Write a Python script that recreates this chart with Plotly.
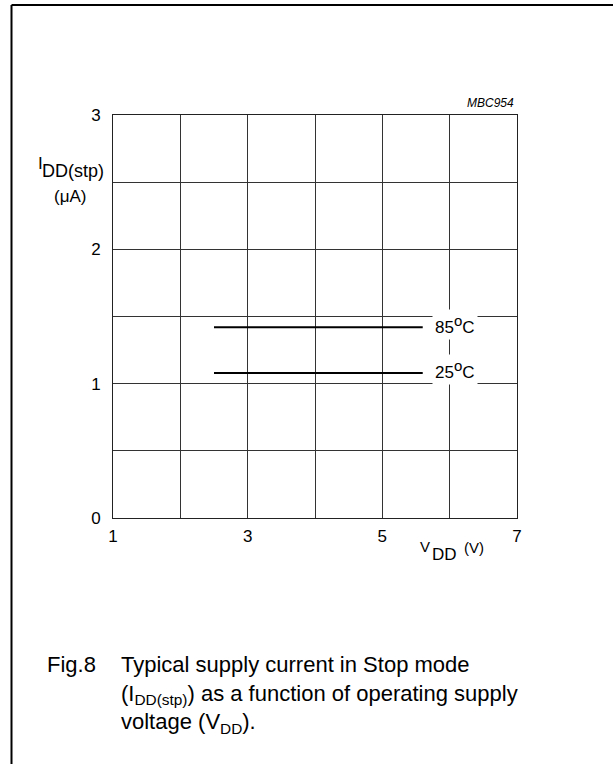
import plotly.graph_objects as go

# ---- data ----
vdd = [2.5, 5.6]            # V
idd_85 = [1.42, 1.42]       # uA at 85 C
idd_25 = [1.08, 1.08]       # uA at 25 C
series_labels = ["85", "25"]
x_ticks = [1, 2, 3, 4, 5, 6, 7]
x_ticktext = ["1", "", "3", "", "5", "", "7"]
y_ticks = [0, 0.5, 1, 1.5, 2, 2.5, 3]
y_ticktext = ["0", "", "1", "", "2", "", "3"]

W, H = 613, 764
ML, MR, MT, MB = 113, 96, 115, 246
PW, PH = W - ML - MR, H - MT - MB

def px(x):
    return (x - ML) / PW

def py(y):
    return (H - MB - y) / PH

FONT = "Liberation Sans, Arial, sans-serif"

fig = go.Figure()
for yv in (idd_85, idd_25):
    fig.add_trace(go.Scatter(x=vdd, y=yv, mode="lines",
                             line=dict(color="black", width=2),
                             showlegend=False, hoverinfo="skip"))

ann = []
for yv, lab in zip((idd_85, idd_25), series_labels):
    text = lab + "<sup><span style='font-size:15px'>o</span></sup>C"
    ann.append(dict(x=vdd[-1], y=yv[-1], xref="x", yref="y", text=text,
                    showarrow=False, xanchor="left", yanchor="middle",
                    xshift=9, yshift=3, bgcolor="white", borderpad=2,
                    font=dict(family=FONT, size=17, color="black")))

def t(text, x, y, size, xanchor="left", yanchor="middle", italic=False):
    return dict(x=px(x), y=py(y), xref="paper", yref="paper", text=text,
                showarrow=False, xanchor=xanchor, yanchor=yanchor,
                font=dict(family=FONT, size=size, color="black",
                          style="italic" if italic else "normal"))

ann += [
    t("I", 36, 163, 17),
    t("DD(stp)", 40, 171, 18),
    t("(\u03bcA)", 52, 196, 17),
    t("V", 418, 546, 15),
    t("DD", 430, 554, 17),
    t("(V)", 462, 547, 15),
    t("MBC954", 516, 103, 12, xanchor="right", italic=True),
    t("Fig.8", 45, 664, 22),
    t("Typical supply current in Stop mode<br>(I<sub>DD(stp)</sub>) as a function of operating supply<br>voltage (V<sub>DD</sub>).",
      119, 650, 22, yanchor="top"),
]
for a in ann:
    if a.get("yanchor") == "top":
        a["align"] = "left"

shapes = [
    dict(type="line", xref="paper", yref="paper", x0=px(11.5), x1=px(613), y0=py(5), y1=py(5),
         line=dict(color="black", width=2)),
    dict(type="line", xref="paper", yref="paper", x0=px(11.5), x1=px(11.5), y0=py(5), y1=py(764),
         line=dict(color="black", width=2)),
]

axis_common = dict(showline=True, mirror=True, linecolor="#222", linewidth=1,
                   showgrid=True, gridcolor="#333", gridwidth=1, zeroline=False,
                   ticks="", tickfont=dict(family=FONT, size=17, color="black"))

fig.update_layout(
    width=W, height=H, margin=dict(l=ML, r=MR, t=MT, b=MB, autoexpand=False),
    paper_bgcolor="white", plot_bgcolor="white",
    xaxis=dict(range=[1, 7], tickvals=x_ticks, ticktext=x_ticktext,
               ticklabelstandoff=3, **axis_common),
    yaxis=dict(range=[0, 3], tickvals=y_ticks, ticktext=y_ticktext,
               ticklabelstandoff=8, **axis_common),
    annotations=ann, shapes=shapes, showlegend=False,
)

fig.write_html("out.html", config={"displayModeBar": False},
               post_script="document.body.style.margin='0px';document.body.style.overflow='hidden';")
